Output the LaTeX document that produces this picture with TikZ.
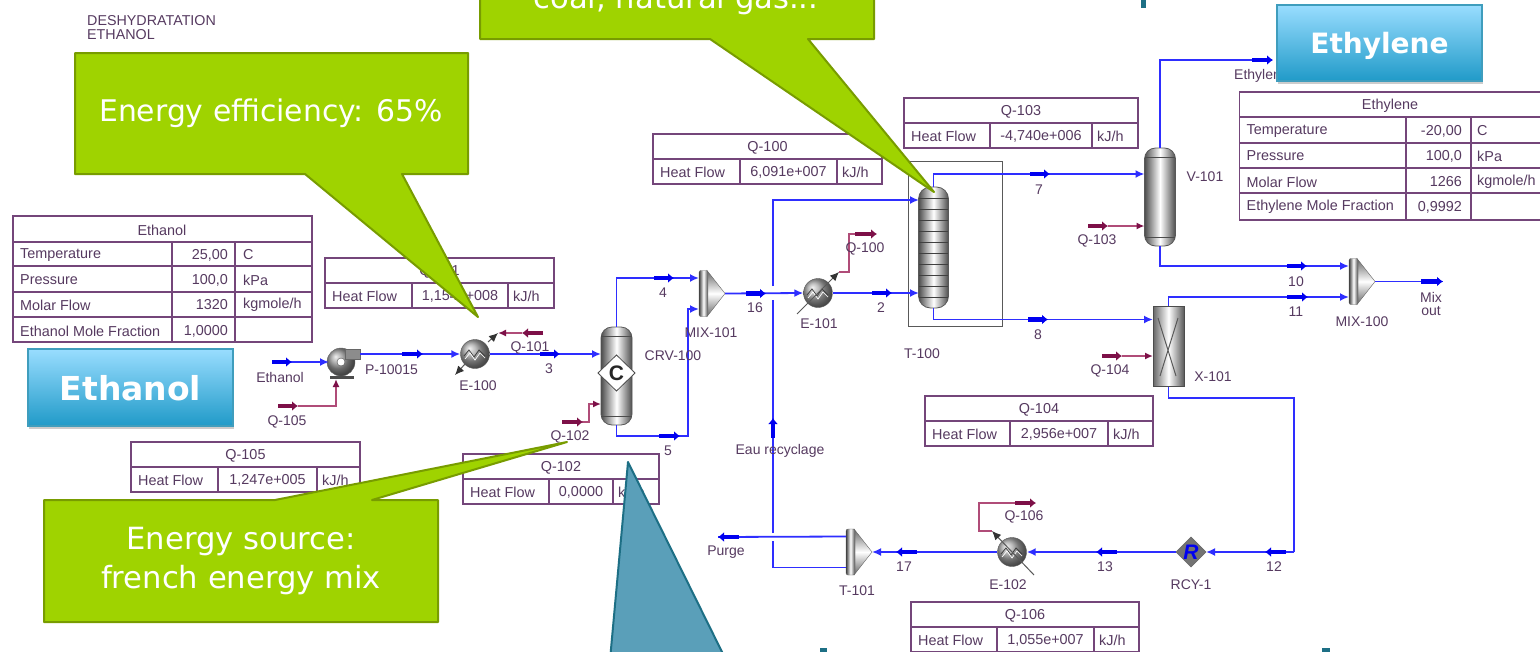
\documentclass[tikz,border=0pt]{standalone}
\usepackage{fontspec}
\usepackage{xcolor}
\usepackage{tikz}
\usetikzlibrary{arrows.meta,positioning,shadows}
\setmainfont{Liberation Sans}
\newfontfamily\slidefont{DejaVu Sans}
\definecolor{strm}{HTML}{2E2EFF}
\definecolor{flagblue}{HTML}{0000F0}
\definecolor{heat}{HTML}{7D1048}
\definecolor{heatline}{HTML}{B04C78}
\definecolor{frame}{HTML}{74467A}
\definecolor{lab}{HTML}{563A60}
\definecolor{leaf}{HTML}{9FD300}
\definecolor{leafdark}{HTML}{789C00}
\definecolor{seatop}{HTML}{99DDFF}
\definecolor{seabot}{HTML}{209AC8}
\definecolor{seadark}{HTML}{3F9DBD}
\definecolor{tealfill}{HTML}{5A9FB9}
\definecolor{tealdark}{HTML}{1D6F85}
\newcommand{\heattable}[8]{%
  \draw[grid] (#3,#7) rectangle (#6,#7+50) (#3,#7+25) -- (#6,#7+25)
    (#4,#7+25) -- (#4,#7+50) (#5,#7+25) -- (#5,#7+50);
  \node[cell] (#8t) at ({(#3+#6)/2},#7+12.5) {#1};
  \node[cell,anchor=west] (#8a) at (#3+7,#7+37.5) {Heat Flow};
  \node[cell] (#8b) at ({(#4+#5)/2},#7+37.5) {#2};
  \node[cell,anchor=west] (#8c) at (#5+5,#7+37.5) {kJ/h};
}
\newcommand{\streamrow}[7]{%
  \node[cell,anchor=west] (row#4a) at (#1+7,#4) {#5};
  \node[cell,anchor=east] (row#4b) at (#2,#4) {#6};
  \node[cell,anchor=west] (row#4c) at (#3,#4) {#7};
}
\newcommand{\mixunit}[3]{%
  \path[draw=black!60,top color=black!60,bottom color=black!60,middle color=white]
    (#2+8,#3-23) -- (#2+26,#3) -- (#2+8,#3+23) -- cycle;
  \path[draw=black!60,rounded corners=2pt,left color=black!75,right color=black!70,middle color=white]
    (#2,#3-23) -- (#2+9,#3-23) -- (#2+9,#3+23) -- (#2,#3+23) -- cycle;
  \coordinate (#1up) at (#2,#3-15.5);
  \coordinate (#1lo) at (#2,#3+15.5);
  \coordinate (#1tip) at (#2+26,#3);
}
\newcommand{\zigzag}[1]{%
  \draw[black!75,line width=.8pt] (#1.center) ++(-11,2) -- ++(5,-6) -- ++(5,7) -- ++(5,-7) -- ++(6,6);
  \draw[white,line width=.7pt] (#1.center) ++(-10,5) -- ++(5,-6) -- ++(5,7) -- ++(5,-7) -- ++(5,5);
}

\begin{document}
\begin{tikzpicture}[
    x=1pt,y=-1pt,
    grid/.style={draw=frame,line width=1.3pt},
    cell/.style={font=\fontsize{14.4}{14}\selectfont,text=lab,inner sep=0pt,yshift=-1pt},
    tag/.style={font=\fontsize{14}{13.5}\selectfont,text=lab,inner sep=0pt,align=center,yshift=-1pt},
    stream/.style={draw=strm,line width=1.8pt,-{Latex[length=9pt,width=8pt]}},
    plain/.style={draw=strm,line width=1.8pt},
    flag/.style={draw=flagblue,line width=4.5pt,-{Latex[length=6pt,width=10pt]}},
    heatflag/.style={draw=heat,line width=4pt,-{Latex[length=6pt,width=10pt]}},
    heatflow/.style={draw=heatline,line width=1.8pt,-{Latex[length=8pt,width=7pt,heat]}},
    heatplain/.style={draw=heatline,line width=1.8pt},
    duty/.style={draw=black!65,line width=1pt,-{Latex[length=9pt,width=8pt,black!80]}},
    vessel/.style={draw=black!65,rounded corners=11pt,inner sep=0pt,line width=.8pt,
        left color=black!70,right color=black!70,middle color=white},
    heater/.style={circle,draw=black!65,inner sep=0pt,minimum size=29pt,ball color=black!35},
    callout/.style={fill=leaf,draw=leafdark,line width=2pt,line join=round},
    calltext/.style={font=\slidefont\fontsize{30.6}{39}\selectfont,text=white,align=center,inner sep=0pt},
    tagbox/.style={draw=seadark,line width=1.5pt,top color=seatop,bottom color=seabot,
        drop shadow={shadow xshift=1pt,shadow yshift=-3pt,opacity=.4},
        text=white,font=\slidefont\bfseries,inner sep=0pt}
]
\path[use as bounding box,clip] (0,0) rectangle (1540,651);
\fill[white] (0,0) rectangle (1540,651);

% heading
\node[tag,align=left,anchor=north west,font=\fontsize{14.3}{14}\selectfont] (title) at (87,14) {DESHYDRATATION\\ETHANOL};

% tables
\draw[grid] (13,216) rectangle (312,342) (13,242) -- (312,242) (13,266) -- (312,266)
    (13,292) -- (312,292) (13,317) -- (312,317) (172,242) -- (172,342) (235,242) -- (235,342);
\node[cell] (etht) at (162,229) {Ethanol};
\streamrow{13}{228}{243}{254}{Temperature}{25,00}{C}
\streamrow{13}{228}{243}{279}{Pressure}{100,0}{kPa}
\streamrow{13}{228}{243}{304}{Molar Flow}{1320}{kgmole/h}
\streamrow{13}{228}{243}{330}{Ethanol Mole Fraction}{1,0000}{}

\draw[grid] (1239.5,92) rectangle (1550,220) (1239.5,117) -- (1550,117) (1239.5,143) -- (1550,143)
    (1239.5,168) -- (1550,168) (1239.5,193) -- (1550,193) (1406,117) -- (1406,220) (1471,117) -- (1471,220);
\node[cell] (ylent) at (1390,105) {Ethylene};
\streamrow{1239.5}{1462}{1477}{130}{Temperature}{-20,00}{C}
\streamrow{1239.5}{1462}{1477}{155}{Pressure}{100,0}{kPa}
\streamrow{1239.5}{1462}{1477}{181}{Molar Flow}{1266}{kgmole/h}
\streamrow{1239.5}{1462}{1477}{206}{Ethylene Mole Fraction}{0,9992}{}

\heattable{Q-101}{1,154e+008}{325}{412}{508}{554}{258}{qa}
\heattable{Q-105}{1,247e+005}{131}{218}{317}{360}{442}{qb}
\heattable{Q-102}{0,0000}{463}{549}{613}{659}{454}{qc}
\heattable{Q-100}{6,091e+007}{653}{740}{837}{882}{134}{qd}
\heattable{Q-103}{-4,740e+006}{904}{990}{1092}{1138}{98}{qe}
\heattable{Q-104}{2,956e+007}{925}{1010}{1108}{1153}{396}{qf}
\heattable{Q-106}{1,055e+007}{911}{997}{1094}{1139}{602}{qg}

% units
\draw[draw=black!65,line width=1pt] (908,161) rectangle (1002,326);
\node[vessel,minimum width=31pt,minimum height=98pt] (crv) at (616.5,376) {};
\node[vessel,minimum width=30pt,minimum height=121pt,rounded corners=12pt] (col) at (933.5,247.5) {};
\node[vessel,minimum width=31pt,minimum height=98pt] (sep) at (1160,197) {};
\node[draw=black!70,line width=1pt,minimum width=31pt,minimum height=80pt,inner sep=0pt,
    left color=black!60,right color=black!65,middle color=white] (conv) at (1168.5,346) {};
\draw[black!70,line width=.8pt] (601,336) -- (632,336) (601,416) -- (632,416)
    (1145,157) -- (1175,157) (1145,237) -- (1175,237);
\foreach \y in {198,209,220,231,242,253,264,275,286,297}
    \draw[black!75,line width=.9pt] (919,\y) -- (948,\y);
\draw[fill=white,draw=black!70,line width=.8pt] (616.5,355) -- (635,373) -- (616.5,391) -- (598,373) -- cycle;
\node[inner sep=0pt,font=\fontsize{21}{21}\selectfont\bfseries,text=black!85] (crvc) at (616.5,373) {C};
\draw[black!65,line width=1pt] (1158,318) -- (1176,376) (1178,318) -- (1160,376);
\node[heater] (e100) at (475,354) {};
\node[heater] (e101) at (818,293) {};
\node[heater] (e102) at (1012,552) {};
\zigzag{e100}
\zigzag{e101}
\zigzag{e102}
\node[circle,draw=black!60,minimum size=28pt,inner sep=0pt,ball color=black!40] (pump) at (341,362) {};
\fill[black!45,draw=black!60] (345,349) rectangle (360,359);
\fill[black!70] (330,376) rectangle (354,379);
\node[circle,fill=white,draw=black!70,minimum size=8pt,inner sep=0pt] (pumpeye) at (341,362) {};
\mixunit{mixa}{699}{293.5}
\mixunit{mixb}{1349}{281.5}
\mixunit{tee}{846}{552}
\draw[draw=black!60,fill=black!55] (1191,537) -- (1206,552) -- (1191,567) -- (1176,552) -- cycle;
\node[inner sep=0pt,font=\fontsize{21}{21}\selectfont\bfseries\itshape,text=flagblue] (rcy) at (1191,552) {R};

% coordinates of free stream ends
\coordinate (feed) at (272,362);
\coordinate (pumpin) at (329,362);
\coordinate (pumpout) at (360,354);
\coordinate (crvin) at (601,354);
\coordinate (crvq) at (601,404);
\coordinate (sepin) at (1144.5,174);
\coordinate (sepq) at (1144.5,226);
\coordinate (convin) at (1153,319.5);
\coordinate (convq) at (1153,356);
\coordinate (colin) at (919,200);
\coordinate (colmid) at (919,293);
\coordinate (product) at (1272,60);
\coordinate (mixout) at (1443,281.5);
\coordinate (purge) at (718,537);
\coordinate (crossa) at (773,300);
\coordinate (crossb) at (773,286);
\coordinate (crossc) at (773,541);
\coordinate (crossd) at (773,533);
\coordinate (qfive) at (298,406);
\coordinate (qone) at (498,333);
\coordinate (qtwo) at (582,422);
\coordinate (qzero) at (839,272);
\coordinate (qzeroend) at (855,234);
\coordinate (qsix) at (992,531);
\coordinate (qsixend) at (1015,503);

% streams
\draw[stream] (feed) -- (pumpin);
\draw[stream] (pumpout) -- (e100.west);
\draw[stream] (e100.east) -- (crvin);
\draw[stream] (crv.north) |- (mixaup);
\draw[stream] (crv.south) |- (688,436) |- (mixalo);
\draw[stream] (mixatip) -- (e101.west);
\draw[stream] (e101.east) -- (colmid);
\draw[stream] (col.north) |- (sepin);
\draw[stream] (col.south) |- (convin);
\draw[plain] (sep.north) |- (product);
\draw[stream] (sep.south) |- (mixbup);
\draw[stream] (conv.north) |- (mixblo);
\draw[plain] (mixbtip) -- (mixout);
\draw[plain] (conv.south) |- (1294,398) -- (1294,552);
\draw[stream] (1294,552) -- (1206,552);
\draw[stream] (1176,552) -- (e102.east);
\draw[stream] (e102.west) -- (teetip);
\draw[plain] (teeup) -- (purge);
\draw[plain] (teelo) -| (crossc);
\draw[plain] (crossd) -- (crossa);
\draw[stream] (crossb) |- (colin);

% energy streams
\draw[heatflow] (qfive) -| (336,379);
\draw[heatflow] (qtwo) -- (589,422) |- (crvq);
\draw[heatflow] (1108,226) -- (sepq);
\draw[heatflow] (1122,356) -- (convq);
\draw[heatplain] (qzero) -- (849,272) |- (qzeroend);
\draw[heatplain] (qsix) -- (979,531) |- (qsixend);
\draw[duty] (488,342) -- (498,333);
\draw[heatflow] (522,333) -- (qone);
\draw[duty] (465,364) -- (455,375);
\draw[duty] (797,314) -- (839,272);
\draw[duty] (1034,575) -- (992,531);

% stream flags
\draw[flag] (272,362) -- (292,362);
\draw[flag] (402,354) -- (423,354);
\draw[flag] (540,354) -- (560,354);
\draw[flag] (654,278) -- (674,278);
\draw[flag] (659,436) -- (680,436);
\draw[flag] (746,293.5) -- (766,293.5);
\draw[flag] (872,293) -- (892,293);
\draw[flag] (1030,174) -- (1050,174);
\draw[flag] (1028,319.5) -- (1048,319.5);
\draw[flag] (1252,60) -- (1273,60);
\draw[flag] (1287,266) -- (1307,266);
\draw[flag] (1287,297) -- (1308,297);
\draw[flag] (1421,281.5) -- (1443,281.5);
\draw[flag] (1286,552) -- (1265,552);
\draw[flag] (1117,552) -- (1096,552);
\draw[flag] (917,552) -- (896,552);
\draw[flag] (739,537) -- (718,537);
\draw[flag] (773,438) -- (773,418);
\draw[heatflag] (278,406) -- (298,406);
\draw[heatflag] (543,333) -- (522,333);
\draw[heatflag] (562,422) -- (583,422);
\draw[heatflag] (855,234) -- (877,234);
\draw[heatflag] (1088,226) -- (1108,226);
\draw[heatflag] (1102,356) -- (1122,356);
\draw[heatflag] (1015,503) -- (1036,503);

% labels
\node[tag] (lethanol) at (280,376) {Ethanol};
\node[tag] (lpump) at (391.5,369) {P-10015};
\node[tag] (lqfive) at (287,421) {Q-105};
\node[tag] (le100) at (478,385) {E-100};
\node[tag] (lqone) at (530,347) {Q-101};
\node[tag] (lthree) at (549,368) {3};
\node[tag] (lfour) at (663,292) {4};
\node[tag] (lfive) at (668,450) {5};
\node[tag] (lqtwo) at (570,436) {Q-102};
\node[tag] (lcrv) at (673,355) {CRV-100};
\node[tag] (lmixa) at (711,332) {MIX-101};
\node[tag] (lsixteen) at (755,307) {16};
\node[tag] (le101) at (819,323) {E-101};
\node[tag] (lqzero) at (865,248) {Q-100};
\node[tag] (ltwo) at (881,307) {2};
\node[tag] (ltower) at (922,353) {T-100};
\node[tag] (lseven) at (1039,189) {7};
\node[tag] (leight) at (1038,334) {8};
\node[tag,anchor=west] (lproduct) at (1234,75) {Ethylene};
\node[tag] (lsep) at (1205,176) {V-101};
\node[tag] (lqthree) at (1097,240) {Q-103};
\node[tag] (lten) at (1296,281) {10};
\node[tag] (leleven) at (1296,311) {11};
\node[tag] (lmixb) at (1362,321) {MIX-100};
\node[tag] (lmixout) at (1431,303) {Mix\\out};
\node[tag] (lconv) at (1213,376) {X-101};
\node[tag] (lqfour) at (1110,370) {Q-104};
\node[tag] (lwater) at (780,450) {Eau recyclage};
\node[tag] (lpurge) at (726,551) {Purge};
\node[tag] (ltee) at (857,590) {T-101};
\node[tag] (lseventeen) at (904,566) {17};
\node[tag] (le102) at (1008,584) {E-102};
\node[tag] (lqsix) at (1024,516) {Q-106};
\node[tag] (lthirteen) at (1105,566) {13};
\node[tag] (lrcy) at (1191,584) {RCY-1};
\node[tag] (ltwelve) at (1274,566) {12};

% slide overlays
\draw[callout] (75,53) -- (468,53) -- (468,174) -- (402,174) -- (478,317) -- (305,174) -- (75,174) -- cycle;
\node[calltext,font=\slidefont\fontsize{29.8}{39}\selectfont] (efficiency) at (271,113) {Energy efficiency: 65\%};
\draw[callout] (480,-20) -- (874,-20) -- (874,39) -- (808,39) -- (934,192) -- (710,39) -- (480,39) -- cycle;
\node[calltext,anchor=base] (coal) at (676,8) {coal, natural gas...};
\draw[callout] (44,500) -- (275,500) -- (567,442) -- (372,500) -- (438,500) -- (438,622) -- (44,622) -- cycle;
\node[calltext] (source) at (241,561) {Energy source:\\french energy mix};
\draw[fill=tealfill,draw=tealdark,line width=2pt,line join=round] (628,462) -- (726,660) -- (610,660) -- cycle;
\fill[tealdark] (1141,-2) rectangle (1146,8);
\fill[tealdark] (820,648) rectangle (827,653);
\fill[tealdark] (1322,648) rectangle (1330,653);
\node[tagbox,minimum width=205pt,minimum height=77pt,font=\slidefont\bfseries\fontsize{33}{33}\selectfont,text depth=0pt] (ethanolbox) at (130.5,387.5) {Ethanol};
\node[tagbox,minimum width=205pt,minimum height=76pt,font=\slidefont\bfseries\fontsize{28}{28}\selectfont,text depth=0pt] (ethylenebox) at (1379.5,43) {Ethylene};
\end{tikzpicture}
\end{document}
